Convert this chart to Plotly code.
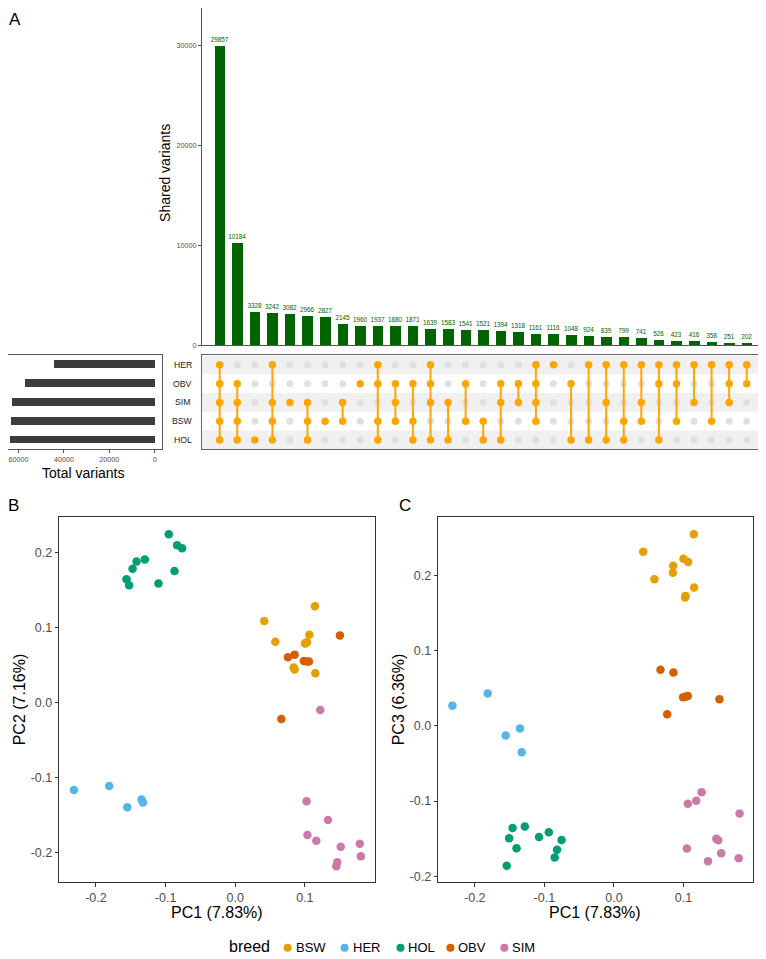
import plotly.graph_objects as go

# Page size; the plot div sits 8px in from the page's top-left (default body margin)
W, H = 766, 959
OFF = 8
FW, FH = W - OFF, H - OFF

# ---------------- Panel A data ----------------
set_names = ["HER", "OBV", "SIM", "BSW", "HOL"]
intersection_sizes = [29857, 10184, 3328, 3242, 3082, 2966, 2827, 2145, 1960, 1937,
                      1880, 1871, 1639, 1583, 1541, 1521, 1394, 1318, 1161, 1116,
                      1048, 924, 839, 799, 741, 526, 423, 416, 358, 251, 202]
intersection_sets = [
    ["HER", "OBV", "SIM", "BSW", "HOL"], ["OBV", "SIM", "BSW", "HOL"], ["HOL"],
    ["HER", "SIM", "BSW", "HOL"], ["SIM"], ["SIM", "BSW", "HOL"], ["BSW"],
    ["SIM", "BSW"], ["OBV"], ["HER", "OBV", "BSW", "HOL"], ["OBV", "SIM", "BSW"],
    ["OBV", "BSW", "HOL"], ["HER", "OBV", "SIM", "HOL"], ["SIM", "HOL"],
    ["OBV", "BSW"], ["BSW", "HOL"], ["OBV", "SIM", "HOL"], ["OBV", "SIM"],
    ["HER", "OBV", "SIM", "BSW"], ["HER"], ["OBV", "HOL"], ["HER", "HOL"],
    ["HER", "SIM", "HOL"], ["HER", "BSW", "HOL"], ["HER", "SIM", "BSW"],
    ["HER", "OBV", "HOL"], ["HER", "OBV", "BSW"], ["HER", "SIM"], ["HER", "BSW"],
    ["HER", "OBV", "SIM"], ["HER", "OBV"],
]
shared_ticks = [0, 10000, 20000, 30000]
shared_tick_text = ["0", "10000", "20000", "30000"]
total_ticks = [0, 20000, 40000, 60000]
total_tick_text = ["0", "20000", "40000", "60000"]

# ---------------- Panel B / C data ----------------
breeds = ["BSW", "HER", "HOL", "OBV", "SIM"]
colors = {"BSW": "#E69F00", "HER": "#56B4E9", "HOL": "#009E73", "OBV": "#D55E00", "SIM": "#CC79A7"}

b_pc1 = {
    "BSW": [0.1144, 0.0418, 0.1064, 0.0576, 0.1001, 0.1030, 0.0839, 0.0853, 0.1150, 0.1015],
    "HER": [-0.2316, -0.1810, -0.1549, -0.1345, -0.1325],
    "HOL": [-0.0954, -0.0835, -0.0763, -0.1298, -0.1417, -0.1474, -0.1561, -0.1523, -0.1102, -0.0872],
    "OBV": [0.1503, 0.0757, 0.0853, 0.0986, 0.1025, 0.1058, 0.0662],
    "SIM": [0.1024, 0.1332, 0.1037, 0.1164, 0.1515, 0.1789, 0.1804, 0.1465, 0.1452, 0.1222],
}
b_pc2 = {
    "BSW": [0.1284, 0.1085, 0.0903, 0.0810, 0.0784, 0.0801, 0.0465, 0.0438, 0.0389, 0.0792],
    "HER": [-0.1169, -0.1116, -0.1399, -0.1297, -0.1337],
    "HOL": [0.2244, 0.2098, 0.2058, 0.1908, 0.1881, 0.1784, 0.1642, 0.1563, 0.1585, 0.1753],
    "OBV": [0.0894, 0.0602, 0.0637, 0.0553, 0.0544, 0.0544, -0.0221],
    "SIM": [-0.1319, -0.1571, -0.1771, -0.1846, -0.1926, -0.1886, -0.2054, -0.2134, -0.2187, -0.0102],
}
c_pc1 = {
    "BSW": [0.1149, 0.0421, 0.1000, 0.1067, 0.0852, 0.0848, 0.0583, 0.1153, 0.1029, 0.1024],
    "HER": [-0.2322, -0.1815, -0.1556, -0.1350, -0.1326],
    "HOL": [-0.1281, -0.1457, -0.1506, -0.1077, -0.0936, -0.0752, -0.1400, -0.0817, -0.0851, -0.1541],
    "OBV": [0.0670, 0.0856, 0.0995, 0.1063, 0.1517, 0.0766, 0.1029],
    "SIM": [0.1261, 0.1184, 0.1063, 0.1807, 0.1472, 0.1500, 0.1049, 0.1543, 0.1352, 0.1794],
}
c_pc3 = {
    "BSW": [0.2552, 0.2318, 0.2225, 0.2181, 0.2133, 0.2040, 0.1952, 0.1841, 0.1731, 0.1709],
    "HER": [0.0270, 0.0433, -0.0127, -0.0034, -0.0352],
    "HOL": [-0.1338, -0.1359, -0.1497, -0.1478, -0.1417, -0.1518, -0.1629, -0.1650, -0.1752, -0.1862],
    "OBV": [0.0747, 0.0711, 0.0380, 0.0397, 0.0354, 0.0155, 0.0389],
    "SIM": [-0.0882, -0.0997, -0.1037, -0.1165, -0.1501, -0.1523, -0.1633, -0.1695, -0.1801, -0.1762],
}
pc_x_ticks = [-0.2, -0.1, 0.0, 0.1]
pc_x_text = ["-0.2", "-0.1", "0.0", "0.1"]
pc2_ticks = [-0.2, -0.1, 0.0, 0.1, 0.2]
pc2_text = ["-0.2", "-0.1", "0.0", "0.1", "0.2"]
pc3_ticks = [-0.2, -0.1, 0.0, 0.1, 0.2]
pc3_text = ["-0.2", "-0.1", "0.0", "0.1", "0.2"]

# legend key layout (page pixel positions of the key glyphs)
legend_key_px = [288, 345, 401, 451, 505]


def fx(px):
    return min(1.0, max(0.0, (px - OFF) / FW))


def fy(py):
    return min(1.0, max(0.0, 1 - (py - OFF) / FH))


def xd(a, b):
    return [fx(a), fx(b)]


def yd(top, bottom):
    return [fy(bottom), fy(top)]


FONT = "Liberation Sans, Arial, sans-serif"
fig = go.Figure()

ncol = len(intersection_sizes)
cols = list(range(ncol))
row_y = {s: 4 - i for i, s in enumerate(set_names)}

# Top bars
fig.add_trace(go.Bar(
    x=cols, y=intersection_sizes, width=0.6, marker_color="#006400", marker_line_width=0,
    text=[str(v) for v in intersection_sizes], textposition="outside", constraintext="none",
    textfont=dict(size=6.4, color="#006400", family=FONT), cliponaxis=False,
    xaxis="x", yaxis="y", showlegend=False, hoverinfo="skip"))

# Matrix
inx, iny, acx, acy, lx, ly = [], [], [], [], [], []
for j, sets in enumerate(intersection_sets):
    rows = [row_y[s] for s in sets]
    for s in set_names:
        if s in sets:
            acx.append(j); acy.append(row_y[s])
        else:
            inx.append(j); iny.append(row_y[s])
    if len(rows) > 1:
        lx += [j, j, None]; ly += [min(rows), max(rows), None]

fig.add_trace(go.Scatter(x=inx, y=iny, mode="markers", marker=dict(size=7, color="#E0E0E0"),
                         xaxis="x2", yaxis="y2", showlegend=False, hoverinfo="skip"))
fig.add_trace(go.Scatter(x=lx, y=ly, mode="lines", line=dict(color="#FFA500", width=2),
                         xaxis="x2", yaxis="y2", showlegend=False, hoverinfo="skip"))
fig.add_trace(go.Scatter(x=acx, y=acy, mode="markers", marker=dict(size=7.5, color="#FFA500"),
                         xaxis="x2", yaxis="y2", showlegend=False, hoverinfo="skip"))

# Set totals (sum of intersections containing each set)
totals = [sum(v for v, s in zip(intersection_sizes, intersection_sets) if name in s) for name in set_names]
fig.add_trace(go.Bar(x=totals, y=[row_y[s] for s in set_names], orientation="h", width=0.42,
                     marker_color="#3c3c3c", marker_line_width=0,
                     xaxis="x3", yaxis="y3", showlegend=False, hoverinfo="skip"))

# PCA scatter
for b in breeds:
    fig.add_trace(go.Scatter(x=b_pc1[b], y=b_pc2[b], mode="markers", name=b,
                             marker=dict(size=8.5, color=colors[b]), xaxis="x4", yaxis="y4",
                             showlegend=False))
    fig.add_trace(go.Scatter(x=c_pc1[b], y=c_pc3[b], mode="markers", name=b,
                             showlegend=False, marker=dict(size=8.5, color=colors[b]),
                             xaxis="x5", yaxis="y5"))

# Compact ggplot-style legend on a hidden axis measured in page pixels
fig.add_trace(go.Scatter(x=legend_key_px, y=[0] * len(breeds), mode="markers",
                         marker=dict(size=8, color=[colors[b] for b in breeds]),
                         xaxis="x6", yaxis="y6", showlegend=False, hoverinfo="skip", cliponaxis=False))
for b, px in zip(breeds, legend_key_px):
    fig.add_annotation(text=b, x=px + 7, y=0, xref="x6", yref="y6", showarrow=False,
                       xanchor="left", yanchor="middle", borderpad=0,
                       font=dict(size=13, color="#000", family=FONT))
fig.add_annotation(text="breed", x=271, y=0.15, xref="x6", yref="y6", showarrow=False,
                   xanchor="right", yanchor="middle", borderpad=0,
                   font=dict(size=16, color="#000", family=FONT))

# Row stripes in matrix
shapes = []
for s in ["HER", "SIM", "HOL"]:
    shapes.append(dict(type="rect", xref="x2 domain", x0=0, x1=1, yref="y2",
                       y0=row_y[s] - 0.5, y1=row_y[s] + 0.5, fillcolor="#F0F0F0",
                       line_width=0, layer="below"))

tickfont_small = dict(size=7.2, color="#4d4d4d", family=FONT)
pc_tickfont = dict(size=12.5, color="#4d4d4d", family=FONT)
base = dict(showgrid=False, zeroline=False)

xr_bars = [-1.02, ncol - 1 + 1.04]
# top bars: 0 at page y 347, 10000 per 100.6 px, axis top at page y 8
top_max = (347 - OFF) / 100.6 * 10000
# set-size bars: 0 at page x 155, 20000 per 45.5 px, box from page x 8 to 162
left_max = (155 - OFF) / 45.5 * 20000
left_min = -(162 - 155) / 45.5 * 20000

fig.update_layout(
    width=FW, height=FH, margin=dict(l=0, r=0, t=0, b=0),
    paper_bgcolor="white", plot_bgcolor="white",
    font=dict(family=FONT, color="#000"),
    bargap=0, showlegend=False,
    shapes=shapes,
    xaxis=dict(domain=xd(202, 766), range=xr_bars, showticklabels=False, ticks="",
               showline=True, linecolor="#555", linewidth=0.8, anchor="y", **base),
    yaxis=dict(domain=yd(0, 347), range=[0, top_max], tickvals=shared_ticks, ticktext=shared_tick_text,
               ticks="outside", ticklen=3, tickcolor="#555", tickfont=tickfont_small,
               showline=True, linecolor="#555", linewidth=0.8, anchor="x", **base),
    xaxis2=dict(domain=xd(202, 766), range=xr_bars, showticklabels=False, ticks="",
                showline=True, mirror=True, linecolor="#666", linewidth=0.8, anchor="y2", **base),
    yaxis2=dict(domain=yd(357.3, 451.7), range=[-0.5, 4.5], showticklabels=False, ticks="",
                showline=True, mirror=True, linecolor="#666", linewidth=0.8, anchor="x2", **base),
    xaxis3=dict(domain=xd(8, 162), range=[left_max, left_min], tickvals=total_ticks, ticktext=total_tick_text,
                ticks="outside", ticklen=3, tickcolor="#555", tickfont=tickfont_small,
                showline=True, mirror=True, linecolor="#555", linewidth=0.8, anchor="y3", **base),
    yaxis3=dict(domain=yd(357.3, 451.7), range=[-0.5, 4.5], showticklabels=False, ticks="",
                showline=True, mirror=True, linecolor="#555", linewidth=0.8, anchor="x3", **base),
    xaxis4=dict(domain=xd(59.3, 375), range=[-0.2527, 0.2], tickvals=pc_x_ticks, ticktext=pc_x_text,
                ticks="outside", ticklen=3.5, tickcolor="#333", tickfont=pc_tickfont,
                showline=True, mirror=True, linecolor="#333", linewidth=1, anchor="y4", **base),
    yaxis4=dict(domain=yd(520, 886.7), range=[-0.2399, 0.2470], tickvals=pc2_ticks, ticktext=pc2_text,
                ticks="outside", ticklen=3.5, tickcolor="#333", tickfont=pc_tickfont,
                showline=True, mirror=True, linecolor="#333", linewidth=1, anchor="x4", **base),
    xaxis5=dict(domain=xd(438.7, 754), range=[-0.2527, 0.2], tickvals=pc_x_ticks, ticktext=pc_x_text,
                ticks="outside", ticklen=3.5, tickcolor="#333", tickfont=pc_tickfont,
                showline=True, mirror=True, linecolor="#333", linewidth=1, anchor="y5", **base),
    yaxis5=dict(domain=yd(520, 886.7), range=[-0.2079, 0.2777], tickvals=pc3_ticks, ticktext=pc3_text,
                ticks="outside", ticklen=3.5, tickcolor="#333", tickfont=pc_tickfont,
                showline=True, mirror=True, linecolor="#333", linewidth=1, anchor="x5", **base),
    xaxis6=dict(domain=[0, 1], range=[OFF, W], visible=False, anchor="y6", fixedrange=True),
    yaxis6=dict(domain=yd(946.2, 959), range=[-1, 1], visible=False, anchor="x6", fixedrange=True),
)


def ann(text, x, y, size, angle=0, color="#000", xanchor="center"):
    fig.add_annotation(text=text, x=fx(x), y=fy(y), xref="paper", yref="paper",
                       showarrow=False, font=dict(size=size, color=color, family=FONT),
                       textangle=angle, xanchor=xanchor, yanchor="middle", borderpad=0)


for s in set_names:
    fig.add_annotation(text=s, x=fx(183), xref="paper", y=row_y[s], yref="y2", showarrow=False,
                       font=dict(size=8.7, color="#222", family=FONT), xanchor="center", yanchor="middle")

ann("A", 15, 20, 17)
ann("B", 14, 508, 17)
ann("C", 406, 508, 17)
ann("Shared variants", 165, 174, 14, angle=-90)
ann("Total variants", 83, 475, 14)
ann("PC2 (7.16%)", 19, 703, 16, angle=-90)
ann("PC3 (6.36%)", 398.5, 703, 16, angle=-90)
ann("PC1 (7.83%)", 217, 917, 16)
ann("PC1 (7.83%)", 596, 917, 16)

fig.write_html("out.html")
